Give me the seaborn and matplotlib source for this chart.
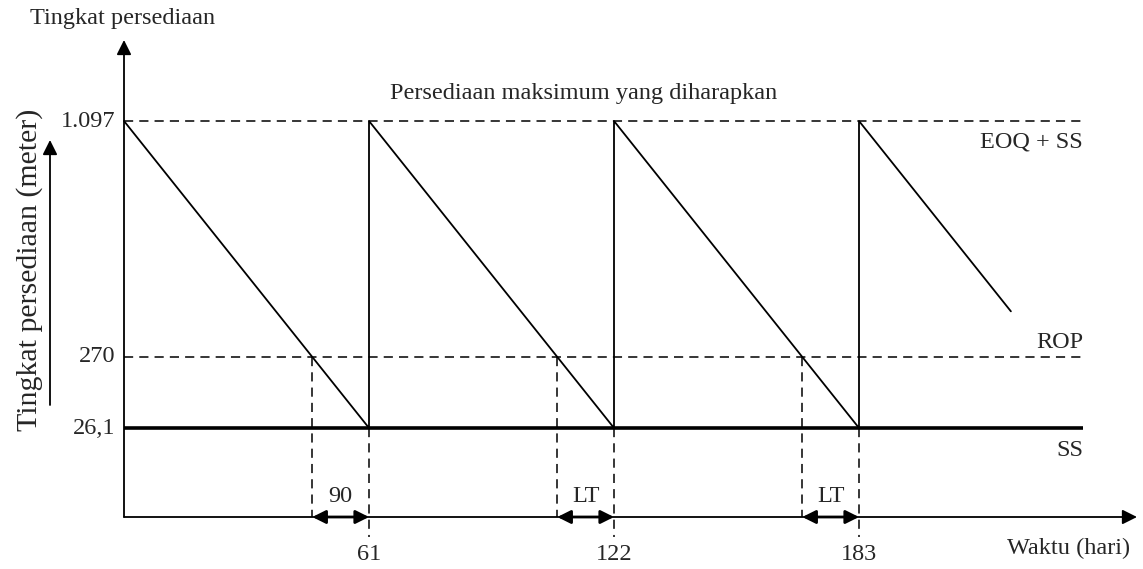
import matplotlib
matplotlib.use("Agg")
import matplotlib.pyplot as plt
import numpy as np
import pandas as pd
import seaborn as sns

# schematic values
cycle_days = [0, 61, 122, 183]          # reorder points on the time axis
day_labels = ["61", "122", "183"]
level_labels = ["1.097", "270", "26,1"]  # max (EOQ+SS), ROP, SS
right_labels = ["EOQ + SS", "ROP", "SS"]
gap_labels = ["90", "LT", "LT"]

# drawing heights of the three levels (schematic, not to scale)
lvl_max, lvl_rop, lvl_ss = 396, 160, 89
last_frac = 0.62   # how far the last drawn cycle goes down

sns.set_style("white")
plt.rcParams["font.family"] = ["Liberation Serif", "DejaVu Serif"]
fs = 17.5

fig = plt.figure(figsize=(11.43, 5.69), dpi=100)
ax = fig.add_axes([0, 0, 1, 1])
px_day = 245 / 61
ax.set_xlim(-124 / px_day, 1019 / px_day)
ax.set_ylim(-52, 517)
ax.axis("off")

# sawtooth
xs, ys = [], []
for d in cycle_days[:-1]:
    xs += [d, d + 61]
    ys += [lvl_max, lvl_ss]
xs.append(cycle_days[-1])
ys.append(lvl_max)
xs.append(cycle_days[-1] + 61 * last_frac)
ys.append(lvl_max - (lvl_max - lvl_ss) * last_frac)
saw = pd.DataFrame({"t": xs, "lvl": ys})
sns.lineplot(data=saw, x="t", y="lvl", sort=False, estimator=None,
             color="black", lw=1.3, ax=ax)

x_end_lines = (1083 - 124) / px_day
dash = (0, (6, 4))
ax.plot([0, x_end_lines], [lvl_max, lvl_max], color="black", lw=1.1, ls=dash)
ax.plot([0, x_end_lines], [lvl_rop, lvl_rop], color="black", lw=1.1, ls=dash)
ax.plot([0, x_end_lines], [lvl_ss, lvl_ss], color="black", lw=2.6, solid_capstyle="butt")

# axes with arrows
arrow = dict(arrowstyle="-|>", mutation_scale=22, lw=1.3, color="black",
             shrinkA=0, shrinkB=0)
ax.annotate("", xy=(0, 477), xytext=(0, 0), arrowprops=arrow)
ax.annotate("", xy=(1137 / px_day - 124 / px_day, 0), xytext=(0, 0), arrowprops=arrow)

# lead-time markers
lt = 61 * (lvl_max - lvl_rop) / (lvl_max - lvl_ss)
dbl = dict(arrowstyle="<|-|>", mutation_scale=20, lw=2.0, color="black",
           shrinkA=0, shrinkB=0)
for i, d in enumerate(cycle_days[:-1]):
    t_rop = d + lt
    t_end = d + 61
    ax.plot([t_rop, t_rop], [lvl_rop, 0], color="black", lw=1.1, ls=dash)
    ax.plot([t_end, t_end], [lvl_ss, -20], color="black", lw=1.1, ls=dash)
    ax.annotate("", xy=(t_end, 0), xytext=(t_rop, 0), arrowprops=dbl)
    ax.text((t_rop + t_end) / 2, 20, gap_labels[i], ha="center", va="center", fontsize=fs)
    ax.text(t_end, -38, day_labels[i], ha="center", va="center", fontsize=fs)

# level labels on the left
for lbl, lvl in zip(level_labels, [lvl_max, lvl_rop, lvl_ss]):
    ax.text(-9 / px_day, lvl, lbl, ha="right", va="center", fontsize=fs)

# labels on the right
ax.text(x_end_lines, lvl_max - 21, right_labels[0], ha="right", va="center", fontsize=fs)
ax.text(x_end_lines, lvl_rop + 14, right_labels[1], ha="right", va="center", fontsize=fs)
ax.text(x_end_lines, lvl_ss - 22, right_labels[2], ha="right", va="center", fontsize=fs)

ax.text((584 - 124) / px_day, 424, "Persediaan maksimum yang diharapkan",
        ha="center", va="center", fontsize=fs)
ax.text(-94 / px_day, 499, "Tingkat persediaan", ha="left", va="center", fontsize=fs)
ax.text(1130 / px_day - 124 / px_day, -31, "Waktu (hari)", ha="right", va="center", fontsize=fs)

# rotated axis title with its arrow
ax.text(-94 / px_day, 247, "Tingkat persediaan (meter)", rotation=90,
        ha="center", va="center", fontsize=21.5)
ax.annotate("", xy=(-74 / px_day, 377), xytext=(-74 / px_day, 112), arrowprops=arrow)

fig.savefig("out.png", dpi=100)
